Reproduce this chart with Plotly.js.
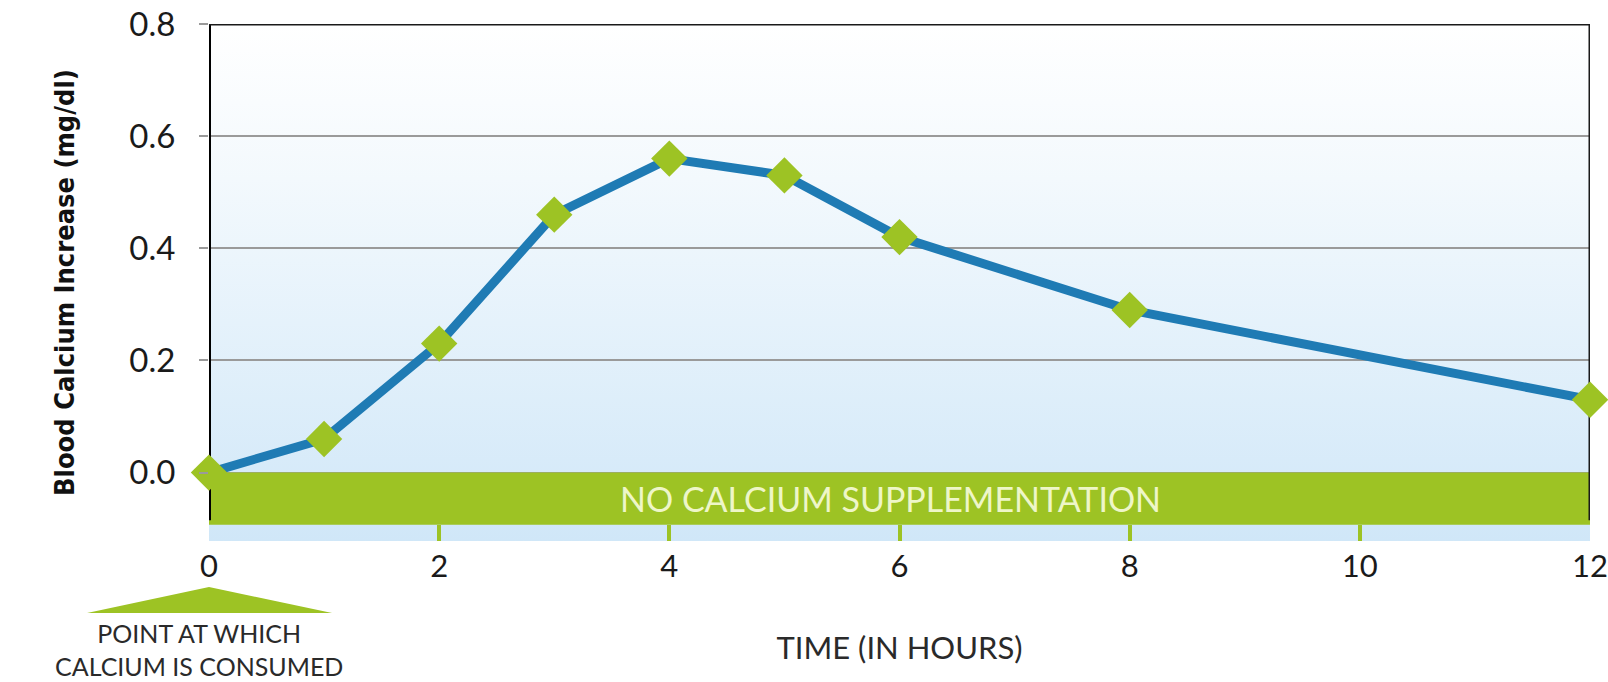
<!DOCTYPE html>
<html>
<head>
<meta charset="utf-8">
<script src="https://cdn.plot.ly/plotly-3.0.1.min.js"></script>
<style>html,body{margin:0;padding:0;background:#fff;}#chart{width:1608px;height:682px;}</style>
</head>
<body>
<div id="chart"></div>
<script>
// ---- data ----
const hours = [0, 1, 2, 3, 4, 5, 6, 8, 12];
const calciumIncrease = [0.0, 0.06, 0.23, 0.46, 0.56, 0.53, 0.42, 0.29, 0.13];
const xTickValues = [0, 2, 4, 6, 8, 10, 12];
const xTickLabels = ['0', '2', '4', '6', '8', '10', '12'];
const yTickValues = [0.0, 0.2, 0.4, 0.6, 0.8];
const yTickLabels = ['0.0', '0.2', '0.4', '0.6', '0.8'];
const bandLabel = 'NO CALCIUM SUPPLEMENTATION';
const noteLines = ['POINT AT WHICH', 'CALCIUM IS CONSUMED'];
const bandStart = 0, bandEnd = 12, bandBottom = -0.093, bandTop = 0.0;
const yRange = [-0.122, 0.8];
const xRange = [0, 12];

const green = '#9dc324';
const blue = '#1f7bb4';

const svg = "<svg xmlns='http://www.w3.org/2000/svg' width='10' height='100' preserveAspectRatio='none'>" +
  "<defs><linearGradient id='g' x1='0' y1='0' x2='0' y2='1'>" +
  "<stop offset='0' stop-color='#ffffff'/><stop offset='0.3' stop-color='#f3f9fd'/>" +
  "<stop offset='1' stop-color='#d0e7f8'/></linearGradient></defs>" +
  "<rect width='10' height='100' fill='url(#g)'/></svg>";
const bgSrc = 'data:image/svg+xml;base64,' + btoa(svg);

const trace = {
  x: hours,
  y: calciumIncrease,
  type: 'scatter',
  mode: 'lines+markers',
  cliponaxis: false,
  line: {color: blue, width: 9},
  marker: {symbol: 'diamond', size: 28, color: green, line: {width: 0}},
  hoverinfo: 'x+y'
};

const layout = {
  width: 1608,
  height: 682,
  margin: {l: 209, r: 18, t: 24, b: 141},
  paper_bgcolor: '#ffffff',
  plot_bgcolor: 'rgba(0,0,0,0)',
  showlegend: false,
  font: {family: 'Lato, "Open Sans", sans-serif', color: '#1a1a1a'},
  images: [{
    source: bgSrc, xref: 'paper', yref: 'paper', x: 0, y: 1,
    sizex: 1, sizey: 1, sizing: 'stretch', xanchor: 'left', yanchor: 'top', layer: 'below'
  }],
  xaxis: {
    range: xRange,
    tickmode: 'array',
    tickvals: xTickValues,
    ticktext: xTickLabels,
    ticks: 'inside',
    ticklen: 16,
    tickwidth: 4,
    tickcolor: green,
    ticklabelstandoff: 4,
    showgrid: false,
    zeroline: false,
    showline: false,
    tickfont: {size: 31, color: '#1a1a1a'},
    title: {
      text: 'TIME (IN HOURS)',
      font: {size: 31, color: '#2a2a2a'},
      standoff: 54
    },
    automargin: false
  },
  yaxis: {
    range: yRange,
    tickmode: 'array',
    tickvals: yTickValues,
    ticktext: yTickLabels,
    ticks: 'outside',
    ticklen: 9,
    tickwidth: 2,
    tickcolor: '#9a9a9a',
    ticklabelstandoff: 17,
    showgrid: true,
    gridcolor: '#9a9a9a',
    gridwidth: 2,
    zeroline: false,
    showline: false,
    tickfont: {size: 33, color: '#1a1a1a'},
    title: {
      text: 'Blood Calcium Increase (mg/dl)',
      font: {family: '"Liberation Sans Narrow", "DejaVu Sans Condensed", sans-serif', size: 27, color: '#111', weight: 'bold'},
      standoff: 46
    },
    automargin: false
  },
  shapes: [
    {type: 'rect', xref: 'x', yref: 'y', x0: bandStart, x1: bandEnd, y0: bandBottom, y1: bandTop,
     fillcolor: green, line: {width: 0}, layer: 'between'},
    {type: 'line', xref: 'x', yref: 'y', x0: xRange[0], x1: xRange[0], y0: bandBottom + 0.008, y1: yRange[1],
     line: {color: '#000', width: 4}, layer: 'between'},
    {type: 'line', xref: 'x', yref: 'y', x0: xRange[1], x1: xRange[1], y0: bandBottom + 0.008, y1: yRange[1],
     line: {color: '#1a1a1a', width: 3}, layer: 'between'},
    {type: 'line', xref: 'x', yref: 'y', x0: xRange[0], x1: xRange[1], y0: yRange[1], y1: yRange[1],
     line: {color: '#1a1a1a', width: 3}, layer: 'between'},
    {type: 'path', xref: 'paper', yref: 'paper',
     path: 'M -0.0883 -0.1393 L 0 -0.0890 L 0.0891 -0.1393 Z',
     fillcolor: green, line: {width: 0}}
  ],
  annotations: [
    {xref: 'x', yref: 'y', x: 5.92, y: (bandBottom + bandTop) / 2, text: bandLabel, showarrow: false,
     font: {size: 34, color: '#eef6c8'}, xanchor: 'center', yanchor: 'middle'},
    {xref: 'paper', yref: 'paper', x: -0.0075, y: -0.2089, text: noteLines.join('<br>'),
     showarrow: false, font: {size: 25, color: '#2a2a2a'}, xanchor: 'center', yanchor: 'middle', align: 'center'}
  ]
};

Plotly.newPlot('chart', [trace], layout, {displayModeBar: false, staticPlot: false});
</script>
</body>
</html>
